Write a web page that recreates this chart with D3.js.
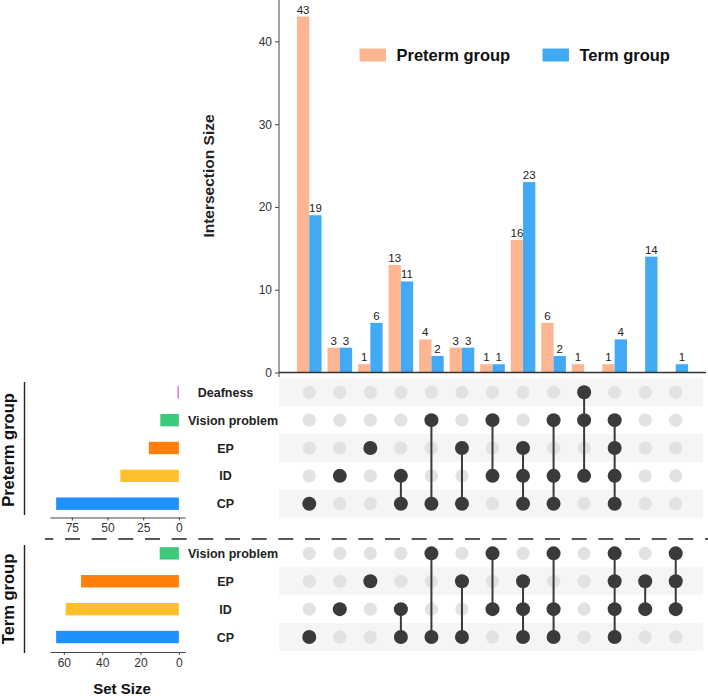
<!DOCTYPE html>
<html>
<head>
<meta charset="utf-8">
<script src="https://cdn.jsdelivr.net/npm/d3@7"></script>
<style>
  html, body { margin: 0; padding: 0; background: #fff; }
  svg { display: block; font-family: "Liberation Sans", Arial, sans-serif; }
</style>
</head>
<body>
<svg id="chart" width="708" height="696"></svg>
<script>
// ---------------- DATA ----------------
const columns = d3.range(13);
const seriesNames = ["Preterm group", "Term group"];
const pretermValues = [43, 3, 1, 13, 4, 3, 1, 16, 6, 1, 1, 0, 0];
const termValues    = [19, 3, 6, 11, 2, 3, 1, 23, 2, 0, 4, 14, 1];

const pretermSets = ["Deafness", "Vision problem", "EP", "ID", "CP"];
const termSets    = ["Vision problem", "EP", "ID", "CP"];
const pretermSetSizes = [1, 13, 21, 41, 86];
const termSetSizes    = [10, 51, 59, 64];

const pretermCombos = [
  ["CP"], ["ID"], ["EP"], ["ID", "CP"], ["Vision problem", "CP"], ["EP", "CP"],
  ["Vision problem", "ID"], ["EP", "ID", "CP"], ["Vision problem", "ID", "CP"],
  ["Deafness", "Vision problem", "ID"], ["Vision problem", "EP", "ID", "CP"], [], []
];
const termCombos = [
  ["CP"], ["ID"], ["EP"], ["ID", "CP"], ["Vision problem", "CP"], ["EP", "CP"],
  ["Vision problem", "ID"], ["EP", "ID", "CP"], ["Vision problem", "ID", "CP"],
  [], ["Vision problem", "EP", "ID", "CP"], ["EP", "ID"], ["Vision problem", "EP", "ID"]
];

const intersectionTicks = [0, 10, 20, 30, 40];
const pretermSizeTicks = [0, 25, 50, 75];
const termSizeTicks = [0, 20, 40, 60];

// ---------------- STYLE ----------------
const seriesColors = ["#FDB691", "#42A9F4"];
const setColors = {
  "Deafness": "#DA6FD6",
  "Vision problem": "#3DC97B",
  "EP": "#FF7F0A",
  "ID": "#FFC12A",
  "CP": "#1E90FF"
};
const dark = "#3A3A3A";
const light = "#E2E2E2";
const stripe = "#F5F5F5";
const textCol = "#222";

const svg = d3.select("#chart");

// ---------------- TOP: intersection bars ----------------
const x = d3.scaleBand().domain(columns).range([294, 691]).padding(0);
const y = d3.scaleLinear().domain([0, 45]).range([372.5, 0]);
const x1 = d3.scaleBand().domain([0, 1]).range([-12.3, 12.3]);

const barData = [];
columns.forEach(c => {
  [pretermValues[c], termValues[c]].forEach((v, s) => {
    if (v > 0) barData.push({ c, s, v });
  });
});

const barsG = svg.append("g");
barsG.selectAll("rect").data(barData).join("rect")
  .attr("x", d => x(d.c) + x.bandwidth() / 2 + x1(d.s))
  .attr("width", x1.bandwidth())
  .attr("y", d => y(d.v))
  .attr("height", d => y(0) - y(d.v))
  .attr("fill", d => seriesColors[d.s]);

barsG.selectAll("text").data(barData).join("text")
  .attr("x", d => x(d.c) + x.bandwidth() / 2 + x1(d.s) + x1.bandwidth() / 2)
  .attr("y", d => y(d.v) - 3)
  .attr("text-anchor", "middle")
  .attr("font-size", 11.5)
  .attr("fill", textCol)
  .text(d => d.v);

// Y axis
const yAxis = svg.append("g").attr("transform", "translate(279,0)")
  .call(d3.axisLeft(y).tickValues(intersectionTicks).tickSize(4).tickPadding(3).tickSizeOuter(0));
yAxis.select(".domain").attr("stroke", "#444").attr("d", "M0,0V377");
yAxis.selectAll(".tick line").attr("stroke", "#444");
yAxis.selectAll(".tick text").attr("font-size", 12).attr("fill", "#333")
  .attr("font-family", "Liberation Sans, Arial, sans-serif");

// baseline
svg.append("line").attr("x1", 279).attr("x2", 706).attr("y1", y(0)).attr("y2", y(0))
  .attr("stroke", "#333").attr("stroke-width", 1.4);

svg.append("text")
  .attr("transform", "translate(214,176) rotate(-90)")
  .attr("text-anchor", "middle")
  .attr("font-size", 15.5).attr("font-weight", "bold").attr("fill", textCol)
  .text("Intersection Size");

// Legend
const legend = svg.append("g");
const legendX = [359.5, 542.5];
seriesNames.forEach((n, i) => {
  legend.append("rect").attr("x", legendX[i]).attr("y", 48.5).attr("width", 26.5).attr("height", 13)
    .attr("fill", seriesColors[i]);
  legend.append("text").attr("x", legendX[i] + 37).attr("y", 61)
    .attr("font-size", 16.5).attr("font-weight", "bold").attr("fill", "#111").text(n);
});

// ---------------- MATRIX + SET SIZES ----------------
function panel(sets, sizes, combos, yRange, sizeDomain, sizeTicks, axisY, groupLabel, groupLine) {
  const ry = d3.scaleBand().domain(sets).range(yRange);
  const n = sets.length;
  const g = svg.append("g");

  // stripes (alternating from bottom)
  g.selectAll("rect.stripe").data(sets.filter((s, i) => (n - 1 - i) % 2 === 0)).join("rect")
    .attr("class", "stripe")
    .attr("x", 279).attr("width", 424)
    .attr("y", d => ry(d)).attr("height", ry.bandwidth())
    .attr("fill", stripe);

  // dots
  const cells = [];
  columns.forEach(c => sets.forEach(s => cells.push({ c, s, on: combos[c].includes(s) })));
  g.selectAll("circle.bg").data(cells.filter(d => !d.on)).join("circle")
    .attr("class", "bg")
    .attr("cx", d => x(d.c) + x.bandwidth() / 2)
    .attr("cy", d => ry(d.s) + ry.bandwidth() / 2)
    .attr("r", 6.6).attr("fill", light);

  // connectors
  const conn = columns.filter(c => combos[c].length > 1).map(c => {
    const ys = combos[c].map(s => ry(s) + ry.bandwidth() / 2);
    return { c, y1: d3.min(ys), y2: d3.max(ys) };
  });
  g.selectAll("line.conn").data(conn).join("line")
    .attr("class", "conn")
    .attr("x1", d => x(d.c) + x.bandwidth() / 2).attr("x2", d => x(d.c) + x.bandwidth() / 2)
    .attr("y1", d => d.y1).attr("y2", d => d.y2)
    .attr("stroke", dark).attr("stroke-width", 2);

  g.selectAll("circle.fg").data(cells.filter(d => d.on)).join("circle")
    .attr("class", "fg")
    .attr("cx", d => x(d.c) + x.bandwidth() / 2)
    .attr("cy", d => ry(d.s) + ry.bandwidth() / 2)
    .attr("r", 7).attr("fill", dark);

  // set labels
  g.selectAll("text.setlabel").data(sets).join("text")
    .attr("class", "setlabel")
    .attr("x", d => d === "Vision problem" ? 233 : 225.5)
    .attr("y", d => ry(d) + ry.bandwidth() / 2 + 4.5)
    .attr("text-anchor", "middle")
    .attr("font-size", 12.5).attr("font-weight", "bold").attr("fill", "#222")
    .text(d => d);

  // set size bars
  const sx = d3.scaleLinear().domain(sizeDomain).range([185, 50]);
  g.selectAll("rect.size").data(sets.map((s, i) => ({ s, v: sizes[i] }))).join("rect")
    .attr("class", "size")
    .attr("x", d => sx(d.v)).attr("width", d => sx(0) - sx(d.v))
    .attr("y", d => ry(d.s) + ry.bandwidth() / 2 - 6.2).attr("height", 12.4)
    .attr("fill", d => setColors[d.s]);

  const ax = g.append("g").attr("transform", `translate(0,${axisY})`)
    .call(d3.axisBottom(sx).tickValues(sizeTicks).tickSize(3).tickPadding(3).tickSizeOuter(0));
  ax.select(".domain").attr("stroke", "#444");
  ax.selectAll(".tick line").attr("stroke", "#444");
  ax.selectAll(".tick text").attr("font-size", 12).attr("fill", "#333")
    .attr("font-family", "Liberation Sans, Arial, sans-serif");

  // group label + bracket line
  svg.append("text")
    .attr("transform", `translate(14,${groupLabel}) rotate(-90)`)
    .attr("text-anchor", "middle")
    .attr("font-size", 16.5).attr("font-weight", "bold").attr("fill", "#111")
    .text(groupLabelText[groupLine.key]);
  svg.append("line").attr("x1", 24.5).attr("x2", 24.5).attr("y1", groupLine.y1).attr("y2", groupLine.y2)
    .attr("stroke", "#222").attr("stroke-width", 1.4);
}

const groupLabelText = { pre: "Preterm group", term: "Term group" };

panel(pretermSets, pretermSetSizes, pretermCombos, [378.4, 517.6], [-4.3, 90.3], pretermSizeTicks, 517.5,
  450, { key: "pre", y1: 382, y2: 515 });
panel(termSets, termSetSizes, termCombos, [539.4, 651], [-3.2, 67.2], termSizeTicks, 652,
  599, { key: "term", y1: 545, y2: 653 });

// dashed separator
svg.append("line").attr("x1", 45).attr("x2", 708).attr("y1", 539).attr("y2", 539)
  .attr("stroke", "#222").attr("stroke-width", 1.5)
  .attr("stroke-dasharray", "15,11.67").attr("stroke-dashoffset", 6.7);

svg.append("text").attr("x", 122).attr("y", 694).attr("text-anchor", "middle")
  .attr("font-size", 15).attr("font-weight", "bold").attr("fill", "#111").text("Set Size");
</script>
</body>
</html>
